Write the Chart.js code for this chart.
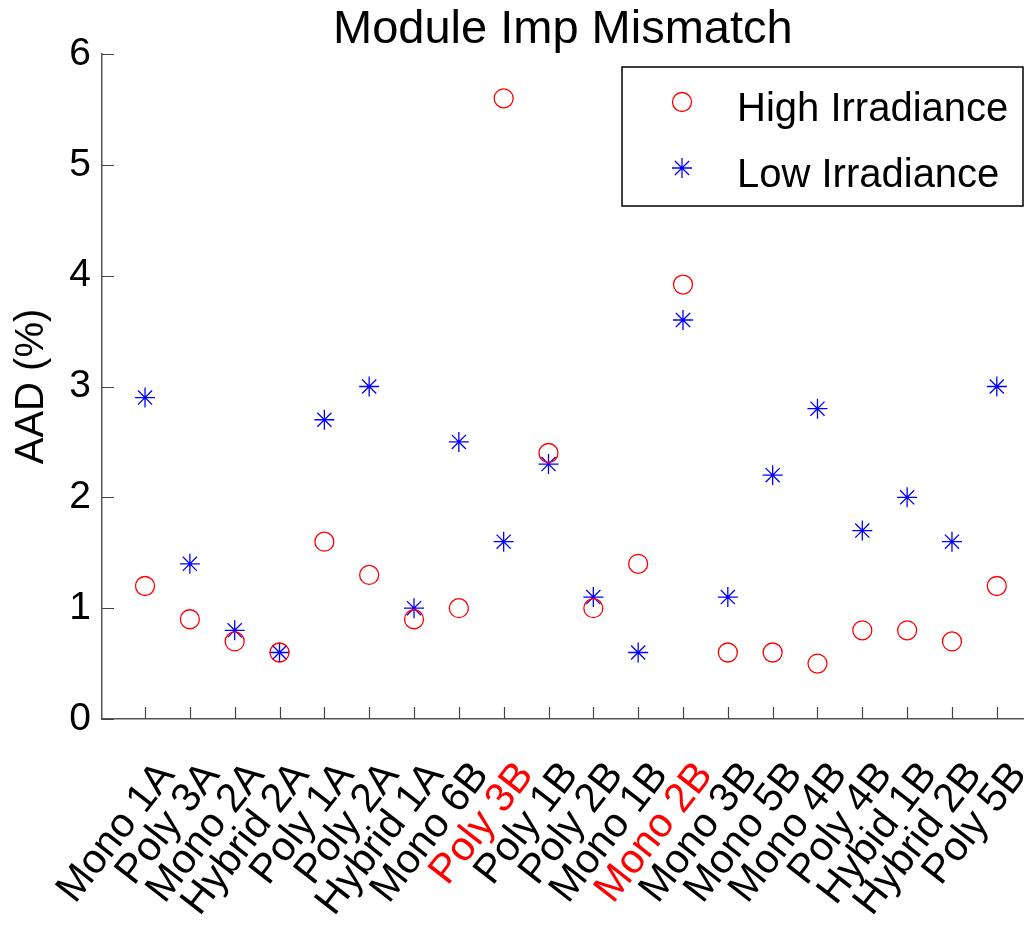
<!DOCTYPE html>
<html>
<head>
<meta charset="utf-8">
<script src="https://cdn.jsdelivr.net/npm/chart.js@4.4.1/dist/chart.umd.min.js"></script>
<style>
  html, body { margin: 0; padding: 0; background: #fff; }
  #wrap { width: 1035px; height: 931px; overflow: hidden; }
</style>
</head>
<body>
<div id="wrap"><canvas id="impChart" width="1035" height="931"></canvas></div>
<script>
// modules along the x axis
const modules = ["Mono 1A", "Poly 3A", "Mono 2A", "Hybrid 2A", "Poly 1A", "Poly 2A", "Hybrid 1A", "Mono 6B", "Poly 3B", "Poly 1B",
  "Poly 2B", "Mono 1B", "Mono 2B", "Mono 3B", "Mono 5B", "Mono 4B", "Poly 4B", "Hybid 1B", "Hybrid 2B", "Poly 5B"];
// AAD (%) per module
const highIrradiance = [1.2, 0.9, 0.7, 0.6, 1.6, 1.3, 0.9, 1.0, 5.6, 2.4, 1.0, 1.4, 3.92, 0.6, 0.6, 0.5, 0.8, 0.8, 0.7, 1.2];
const lowIrradiance = [2.9, 1.4, 0.8, 0.6, 2.7, 3.0, 1.0, 2.5, 1.6, 2.3, 1.1, 0.6, 3.6, 1.1, 2.2, 2.8, 1.7, 2.0, 1.6, 3.0];
const yTicks = [0, 1, 2, 3, 4, 5, 6];
// labels printed in red
const redLabels = ["Poly 3B", "Mono 2B"];

const FONT = "'Liberation Sans', Arial, Helvetica, sans-serif";

// matlab style ticks pointing into the plot
const inwardTicks = {
  id: "inwardTicks",
  afterDraw(chart) {
    const ctx = chart.ctx;
    const xs = chart.scales.x, ys = chart.scales.y;
    ctx.save();
    ctx.strokeStyle = "#444";
    ctx.lineWidth = 1.2;
    ctx.beginPath();
    xs.ticks.forEach(t => {
      const px = Math.round(xs.getPixelForValue(t.value)) + 0.5;
      ctx.moveTo(px, ys.bottom);
      ctx.lineTo(px, ys.bottom - 12);
    });
    yTicks.forEach(v => {
      const py = Math.round(ys.getPixelForValue(v)) + 0.5;
      ctx.moveTo(xs.left, py);
      ctx.lineTo(xs.left + 12, py);
    });
    ctx.stroke();
    ctx.restore();
  }
};

// boxed legend inside the top right corner
const boxLegend = {
  id: "boxLegend",
  afterDraw(chart) {
    const ctx = chart.ctx;
    const a = chart.chartArea;
    const x0 = a.left + 520, y0 = a.top + 13, w = 401, h = 139;
    ctx.save();
    ctx.strokeStyle = "#000";
    ctx.lineWidth = 1.5;
    ctx.strokeRect(x0, y0, w, h);
    ctx.font = "40px " + FONT;
    ctx.fillStyle = "#000";
    ctx.textBaseline = "middle";
    chart.data.datasets.forEach((ds, i) => {
      const my = y0 + 35 + i * 66;
      ctx.strokeStyle = ds.borderColor;
      ctx.fillStyle = "rgba(0,0,0,0)";
      ctx.lineWidth = ds.borderWidth;
      Chart.helpers.drawPoint(ctx, { pointStyle: ds.pointStyle, radius: ds.pointRadius, rotation: 0, borderWidth: ds.borderWidth }, x0 + 60, my);
      ctx.fillStyle = "#000";
      ctx.fillText(ds.label, x0 + 115, my + 8);
    });
    ctx.restore();
  }
};

new Chart(document.getElementById("impChart"), {
  type: "scatter",
  data: {
    datasets: [
      {
        label: "High Irradiance",
        data: highIrradiance.map((v, i) => ({ x: i, y: v })),
        pointStyle: "circle",
        pointRadius: 9.5,
        borderColor: "#ff0000",
        backgroundColor: "rgba(0,0,0,0)",
        borderWidth: 1.3,
      },
      {
        label: "Low Irradiance",
        data: lowIrradiance.map((v, i) => ({ x: i, y: v })),
        pointStyle: "star",
        pointRadius: 10,
        borderColor: "#0000ff",
        backgroundColor: "#0000ff",
        borderWidth: 1.3,
      },
    ],
  },
  options: {
    responsive: false,
    animation: false,
    layout: { padding: { left: 0, right: 0, top: 0, bottom: 0 } },
    plugins: {
      legend: { display: false },
      tooltip: { enabled: false },
      title: {
        display: true,
        fullSize: false,
        text: "Module Imp Mismatch",
        color: "#000",
        font: { family: FONT, size: 47, weight: "normal", lineHeight: 1 },
        padding: { top: 7, bottom: 0 },
      },
    },
    scales: {
      x: {
        type: "linear",
        min: -0.96,
        max: 19.6,
        afterBuildTicks: (scale) => { scale.ticks = modules.map((m, i) => ({ value: i })); },
        afterFit: (scale) => {
          scale.height = 212;
          scale.paddingLeft = 0;
          scale.paddingRight = 0;
        },
        grid: { display: false, drawTicks: false },
        border: { display: true, color: "#555", width: 1.5 },
        ticks: {
          autoSkip: false,
          minRotation: 52,
          maxRotation: 52,
          padding: 34,
          labelOffset: 22,
          color: (c) => redLabels.includes(modules[c.index]) ? "#ff0000" : "#000",
          font: { family: FONT, size: 41 },
          callback: (v) => modules[v],
        },
      },
      y: {
        min: 0,
        max: 6,
        afterBuildTicks: (scale) => { scale.ticks = yTicks.map(v => ({ value: v })); },
        afterFit: (scale) => { scale.width = 102; },
        grid: { display: false, drawTicks: false },
        border: { display: true, color: "#555", width: 1.5 },
        ticks: { padding: 11, color: "#000", font: { family: FONT, size: 39 } },
        title: {
          display: true,
          text: "AAD (%)",
          color: "#000",
          font: { family: FONT, size: 40 },
          padding: { top: 8, bottom: 0 },
        },
      },
    },
  },
  plugins: [inwardTicks, boxLegend],
});
</script>
</body>
</html>
